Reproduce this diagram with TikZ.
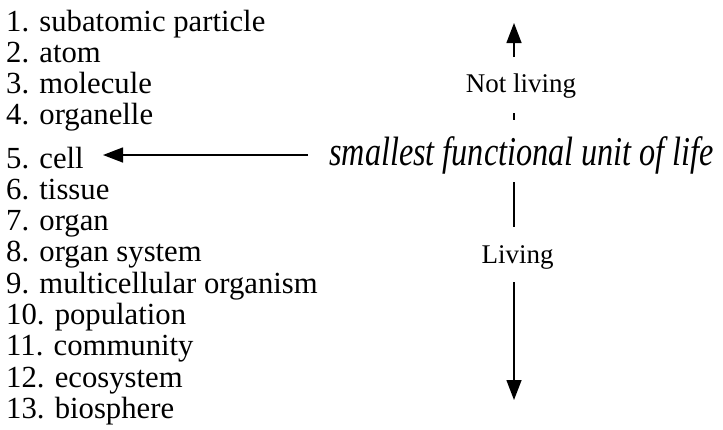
\documentclass[tikz,border=0pt]{standalone}
\usepackage{fontspec}
\usepackage{graphicx}
\setmainfont{Liberation Serif}
\usetikzlibrary{arrows.meta,calc}
\begin{document}
\begin{tikzpicture}[x=1pt,y=-1pt,
  item/.style={anchor=base west,inner sep=0pt,font=\fontsize{30.7}{32}\selectfont},
  side/.style={anchor=base,inner sep=0pt,font=\fontsize{27}{29}\selectfont},
  arr/.style={line width=1.4pt,-{Triangle[length=20pt,width=15pt]}},
  plain/.style={line width=1.4pt}]
\useasboundingbox (0,0) rectangle (723,429);
\node[item] (l1)  at (6,31)    {1. subatomic particle};
\node[item] (l2)  at (6,62.2)  {2. atom};
\node[item] (l3)  at (6,93.4)  {3. molecule};
\node[item] (l4)  at (6,124.6) {4. organelle};
\node[item] (l5)  at (6,168)   {5. cell};
\node[item] (l6)  at (6,199.3) {6. tissue};
\node[item] (l7)  at (6,230.6) {7. organ};
\node[item] (l8)  at (6,261.9) {8. organ system};
\node[item] (l9)  at (6,293.2) {9. multicellular organism};
\node[item] (l10) at (6,324.5) {10. population};
\node[item] (l11) at (6,355.8) {11. community};
\node[item] (l12) at (6,387.1) {12. ecosystem};
\node[item] (l13) at (6,418.4) {13. biosphere};
\node[anchor=base west,inner sep=0pt] (life) at (329,165)
  {\scalebox{0.786}[1]{\fontsize{41}{44}\selectfont\itshape smallest functional unit of life}};
\coordinate (tip) at (103,155);
\draw[arr] ($(life.west|-tip)+(-21,0)$) -- (tip);
\node[side] (nl) at (521,92) {Not living};
\node[side] (lv) at (517.5,263) {Living};
\coordinate (up) at (514,23);
\coordinate (upstart) at (514,57);
\coordinate (tickA) at (514,113);
\coordinate (tickB) at (514,120);
\coordinate (midA) at (514,182);
\coordinate (midB) at (514,227);
\coordinate (downstart) at (514,282);
\coordinate (down) at (514,400);
\draw[arr] (upstart) -- (up);
\draw[plain] (tickA) -- (tickB);
\draw[plain] (midA) -- (midB);
\draw[arr] (downstart) -- (down);
\end{tikzpicture}
\end{document}
